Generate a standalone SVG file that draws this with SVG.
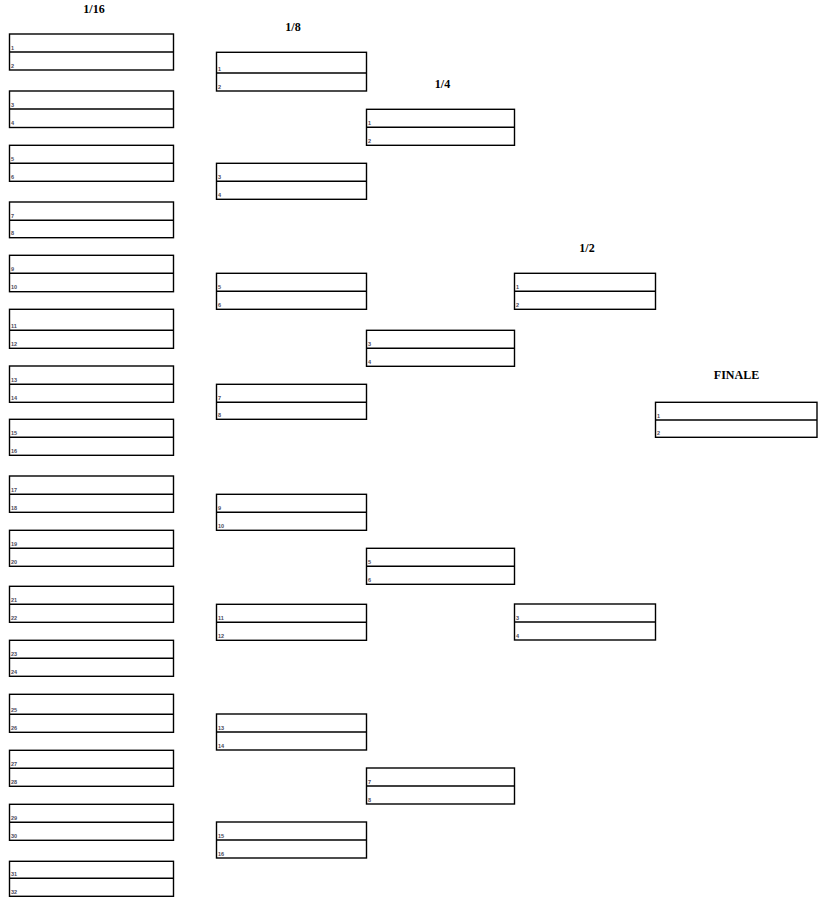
<svg xmlns="http://www.w3.org/2000/svg" width="826" height="913" viewBox="0 0 826 913">
<style>
.b{fill:none;stroke:#000;stroke-width:1.4}
.m{stroke:#000;stroke-width:1.4}
.t{font-family:"Liberation Serif",serif;font-weight:bold;font-size:12px;text-anchor:middle;fill:#000}
.n{font-family:"Liberation Sans",sans-serif;font-weight:bold;font-size:5.5px;fill:#4a4a5a}
</style>
<rect width="826" height="913" fill="#fff"/>
<g id="titles">
<text class="t" x="94" y="13">1/16</text>
<text class="t" x="293" y="31">1/8</text>
<text class="t" x="442.5" y="88">1/4</text>
<text class="t" x="587" y="252">1/2</text>
<text class="t" x="736.5" y="379">FINALE</text>
</g>
<g id="connectors"/>
<g id="r16">
<g id="r16-1"><rect class="b" x="9.5" y="34" width="164" height="36"/><line class="m" x1="9.5" y1="52" x2="173.5" y2="52"/><text class="n" x="11" y="49.5">1</text><text class="n" x="11" y="67.5">2</text></g>
<g id="r16-2"><rect class="b" x="9.5" y="91" width="164" height="36.5"/><line class="m" x1="9.5" y1="109" x2="173.5" y2="109"/><text class="n" x="11" y="106.5">3</text><text class="n" x="11" y="125">4</text></g>
<g id="r16-3"><rect class="b" x="9.5" y="145.3" width="164" height="36"/><line class="m" x1="9.5" y1="163.3" x2="173.5" y2="163.3"/><text class="n" x="11" y="160.8">5</text><text class="n" x="11" y="178.8">6</text></g>
<g id="r16-4"><rect class="b" x="9.5" y="202" width="164" height="35.7"/><line class="m" x1="9.5" y1="220.3" x2="173.5" y2="220.3"/><text class="n" x="11" y="217.8">7</text><text class="n" x="11" y="235.2">8</text></g>
<g id="r16-5"><rect class="b" x="9.5" y="255.3" width="164" height="36.4"/><line class="m" x1="9.5" y1="273.3" x2="173.5" y2="273.3"/><text class="n" x="11" y="270.8">9</text><text class="n" x="11" y="289.2">10</text></g>
<g id="r16-6"><rect class="b" x="9.5" y="309.3" width="164" height="39"/><line class="m" x1="9.5" y1="330.3" x2="173.5" y2="330.3"/><text class="n" x="11" y="327.8">11</text><text class="n" x="11" y="345.8">12</text></g>
<g id="r16-7"><rect class="b" x="9.5" y="366" width="164" height="36.3"/><line class="m" x1="9.5" y1="384.3" x2="173.5" y2="384.3"/><text class="n" x="11" y="381.8">13</text><text class="n" x="11" y="399.8">14</text></g>
<g id="r16-8"><rect class="b" x="9.5" y="419.3" width="164" height="36"/><line class="m" x1="9.5" y1="437.3" x2="173.5" y2="437.3"/><text class="n" x="11" y="434.8">15</text><text class="n" x="11" y="452.8">16</text></g>
<g id="r16-9"><rect class="b" x="9.5" y="476" width="164" height="36.3"/><line class="m" x1="9.5" y1="494.3" x2="173.5" y2="494.3"/><text class="n" x="11" y="491.8">17</text><text class="n" x="11" y="509.8">18</text></g>
<g id="r16-10"><rect class="b" x="9.5" y="530.3" width="164" height="36"/><line class="m" x1="9.5" y1="548.3" x2="173.5" y2="548.3"/><text class="n" x="11" y="545.8">19</text><text class="n" x="11" y="563.8">20</text></g>
<g id="r16-11"><rect class="b" x="9.5" y="586.3" width="164" height="36"/><line class="m" x1="9.5" y1="604.3" x2="173.5" y2="604.3"/><text class="n" x="11" y="601.8">21</text><text class="n" x="11" y="619.8">22</text></g>
<g id="r16-12"><rect class="b" x="9.5" y="640.3" width="164" height="36"/><line class="m" x1="9.5" y1="658.3" x2="173.5" y2="658.3"/><text class="n" x="11" y="655.8">23</text><text class="n" x="11" y="673.8">24</text></g>
<g id="r16-13"><rect class="b" x="9.5" y="694.3" width="164" height="38"/><line class="m" x1="9.5" y1="714.3" x2="173.5" y2="714.3"/><text class="n" x="11" y="711.8">25</text><text class="n" x="11" y="729.8">26</text></g>
<g id="r16-14"><rect class="b" x="9.5" y="750.3" width="164" height="36"/><line class="m" x1="9.5" y1="768.3" x2="173.5" y2="768.3"/><text class="n" x="11" y="765.8">27</text><text class="n" x="11" y="783.8">28</text></g>
<g id="r16-15"><rect class="b" x="9.5" y="804.3" width="164" height="36"/><line class="m" x1="9.5" y1="822.3" x2="173.5" y2="822.3"/><text class="n" x="11" y="819.8">29</text><text class="n" x="11" y="837.8">30</text></g>
<g id="r16-16"><rect class="b" x="9.5" y="861.3" width="164" height="35"/><line class="m" x1="9.5" y1="878.3" x2="173.5" y2="878.3"/><text class="n" x="11" y="875.8">31</text><text class="n" x="11" y="893.8">32</text></g>
</g>
<g id="r8">
<g id="r8-1"><rect class="b" x="216.5" y="52.3" width="150" height="38.7"/><line class="m" x1="216.5" y1="73" x2="366.5" y2="73"/><text class="n" x="218" y="70.5">1</text><text class="n" x="218" y="88.5">2</text></g>
<g id="r8-2"><rect class="b" x="216.5" y="163.3" width="150" height="36"/><line class="m" x1="216.5" y1="181.3" x2="366.5" y2="181.3"/><text class="n" x="218" y="178.8">3</text><text class="n" x="218" y="196.8">4</text></g>
<g id="r8-3"><rect class="b" x="216.5" y="273.3" width="150" height="36"/><line class="m" x1="216.5" y1="291.3" x2="366.5" y2="291.3"/><text class="n" x="218" y="288.8">5</text><text class="n" x="218" y="306.8">6</text></g>
<g id="r8-4"><rect class="b" x="216.5" y="384.3" width="150" height="35"/><line class="m" x1="216.5" y1="402.3" x2="366.5" y2="402.3"/><text class="n" x="218" y="399.8">7</text><text class="n" x="218" y="416.8">8</text></g>
<g id="r8-5"><rect class="b" x="216.5" y="494.3" width="150" height="36"/><line class="m" x1="216.5" y1="512.3" x2="366.5" y2="512.3"/><text class="n" x="218" y="509.8">9</text><text class="n" x="218" y="527.8">10</text></g>
<g id="r8-6"><rect class="b" x="216.5" y="604.3" width="150" height="36"/><line class="m" x1="216.5" y1="622.3" x2="366.5" y2="622.3"/><text class="n" x="218" y="619.8">11</text><text class="n" x="218" y="637.8">12</text></g>
<g id="r8-7"><rect class="b" x="216.5" y="714" width="150" height="36"/><line class="m" x1="216.5" y1="732" x2="366.5" y2="732"/><text class="n" x="218" y="729.5">13</text><text class="n" x="218" y="747.5">14</text></g>
<g id="r8-8"><rect class="b" x="216.5" y="822" width="150" height="36"/><line class="m" x1="216.5" y1="840" x2="366.5" y2="840"/><text class="n" x="218" y="837.5">15</text><text class="n" x="218" y="855.5">16</text></g>
</g>
<g id="r4">
<g id="r4-1"><rect class="b" x="366.5" y="109.3" width="148" height="36"/><line class="m" x1="366.5" y1="127.3" x2="514.5" y2="127.3"/><text class="n" x="368" y="124.8">1</text><text class="n" x="368" y="142.8">2</text></g>
<g id="r4-2"><rect class="b" x="366.5" y="330.3" width="148" height="36"/><line class="m" x1="366.5" y1="348.3" x2="514.5" y2="348.3"/><text class="n" x="368" y="345.8">3</text><text class="n" x="368" y="363.8">4</text></g>
<g id="r4-3"><rect class="b" x="366.5" y="548.3" width="148" height="36"/><line class="m" x1="366.5" y1="566.3" x2="514.5" y2="566.3"/><text class="n" x="368" y="563.8">5</text><text class="n" x="368" y="581.8">6</text></g>
<g id="r4-4"><rect class="b" x="366.5" y="768" width="148" height="36"/><line class="m" x1="366.5" y1="786" x2="514.5" y2="786"/><text class="n" x="368" y="783.5">7</text><text class="n" x="368" y="801.5">8</text></g>
</g>
<g id="r2">
<g id="r2-1"><rect class="b" x="514.5" y="273.3" width="141" height="36"/><line class="m" x1="514.5" y1="291.3" x2="655.5" y2="291.3"/><text class="n" x="516" y="288.8">1</text><text class="n" x="516" y="306.8">2</text></g>
<g id="r2-2"><rect class="b" x="514.5" y="604" width="141" height="36"/><line class="m" x1="514.5" y1="622" x2="655.5" y2="622"/><text class="n" x="516" y="619.5">3</text><text class="n" x="516" y="637.5">4</text></g>
</g>
<g id="final">
<g id="final-1"><rect class="b" x="655.5" y="402.3" width="161.5" height="35"/><line class="m" x1="655.5" y1="420" x2="817" y2="420"/><text class="n" x="657" y="417.5">1</text><text class="n" x="657" y="434.8">2</text></g>
</g>
</svg>
